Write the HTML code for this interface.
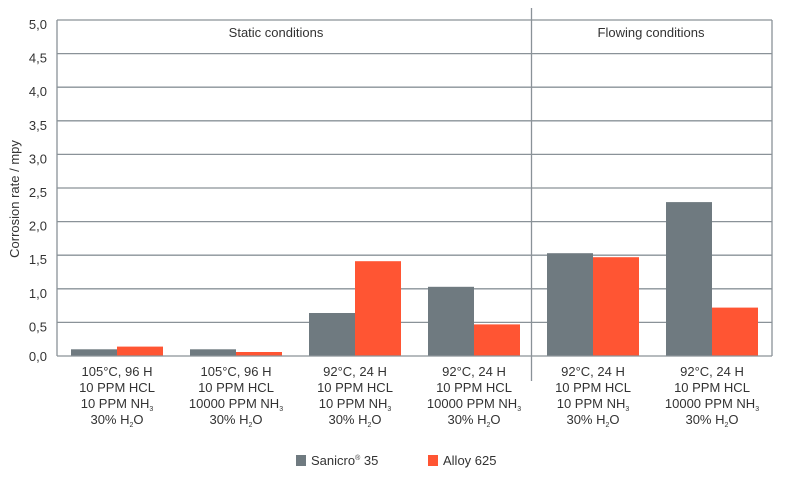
<!DOCTYPE html>
<html><head><meta charset="utf-8"><style>
body{margin:0;background:#fff}
svg{display:block;font-family:"Liberation Sans",sans-serif}
</style></head><body>
<svg width="800" height="479" viewBox="0 0 800 479">
<g stroke="#8a9298" stroke-width="1.3">
<line x1="57" y1="20" x2="772" y2="20"/><line x1="57" y1="53.6" x2="772" y2="53.6"/>
<line x1="57" y1="87.2" x2="772" y2="87.2"/><line x1="57" y1="120.8" x2="772" y2="120.8"/>
<line x1="57" y1="154.4" x2="772" y2="154.4"/><line x1="57" y1="188" x2="772" y2="188"/>
<line x1="57" y1="221.6" x2="772" y2="221.6"/><line x1="57" y1="255.2" x2="772" y2="255.2"/>
<line x1="57" y1="288.8" x2="772" y2="288.8"/><line x1="57" y1="322.4" x2="772" y2="322.4"/>
<line x1="57" y1="20" x2="57" y2="356"/><line x1="772" y1="20" x2="772" y2="356"/>
<line x1="531.5" y1="8" x2="531.5" y2="381"/>
</g>
<g fill="#6f7a80">
<rect x="71" y="349.3" width="46" height="6.7"/>
<rect x="190" y="349.3" width="46" height="6.7"/>
<rect x="309" y="313" width="46" height="43"/>
<rect x="428" y="286.8" width="46" height="69.2"/>
<rect x="547" y="253.2" width="46" height="102.8"/>
<rect x="666" y="202.1" width="46" height="153.9"/>
<rect x="296" y="455" width="10" height="11"/>
</g>
<g fill="#ff5533">
<rect x="117" y="346.6" width="46" height="9.4"/>
<rect x="236" y="352" width="46" height="4"/>
<rect x="355" y="261.2" width="46" height="94.8"/>
<rect x="474" y="324.4" width="46" height="31.6"/>
<rect x="593" y="257.2" width="46" height="98.8"/>
<rect x="712" y="307.6" width="46" height="48.4"/>
<rect x="428" y="455" width="10" height="11"/>
</g>
<line x1="57" y1="356" x2="772" y2="356" stroke="#8a9298" stroke-width="1.3"/>
<g font-size="13" fill="#333" text-anchor="end">
<text x="47" y="29">5,0</text><text x="47" y="62.6">4,5</text><text x="47" y="96.2">4,0</text>
<text x="47" y="129.8">3,5</text><text x="47" y="163.4">3,0</text><text x="47" y="197">2,5</text>
<text x="47" y="230.6">2,0</text><text x="47" y="264.2">1,5</text><text x="47" y="297.8">1,0</text>
<text x="47" y="331.4">0,5</text><text x="47" y="361">0,0</text>
</g>
<text transform="translate(19,199) rotate(-90)" font-size="13" fill="#333" text-anchor="middle">Corrosion rate / mpy</text>
<text x="276" y="37" font-size="13" fill="#333" text-anchor="middle">Static conditions</text>
<text x="651" y="37" font-size="13" fill="#333" text-anchor="middle">Flowing conditions</text>
<g font-size="13" fill="#333" text-anchor="middle">
<text x="117" y="376">105°C, 96 H</text><text x="117" y="392">10 PPM HCL</text><text x="117" y="408">10 PPM NH<tspan font-size="7" dy="3">3</tspan></text><text x="117" y="424">30% H<tspan font-size="7" dy="3">2</tspan><tspan dy="-3">O</tspan></text>
<text x="236" y="376">105°C, 96 H</text><text x="236" y="392">10 PPM HCL</text><text x="236" y="408">10000 PPM NH<tspan font-size="7" dy="3">3</tspan></text><text x="236" y="424">30% H<tspan font-size="7" dy="3">2</tspan><tspan dy="-3">O</tspan></text>
<text x="355" y="376">92°C, 24 H</text><text x="355" y="392">10 PPM HCL</text><text x="355" y="408">10 PPM NH<tspan font-size="7" dy="3">3</tspan></text><text x="355" y="424">30% H<tspan font-size="7" dy="3">2</tspan><tspan dy="-3">O</tspan></text>
<text x="474" y="376">92°C, 24 H</text><text x="474" y="392">10 PPM HCL</text><text x="474" y="408">10000 PPM NH<tspan font-size="7" dy="3">3</tspan></text><text x="474" y="424">30% H<tspan font-size="7" dy="3">2</tspan><tspan dy="-3">O</tspan></text>
<text x="593" y="376">92°C, 24 H</text><text x="593" y="392">10 PPM HCL</text><text x="593" y="408">10 PPM NH<tspan font-size="7" dy="3">3</tspan></text><text x="593" y="424">30% H<tspan font-size="7" dy="3">2</tspan><tspan dy="-3">O</tspan></text>
<text x="712" y="376">92°C, 24 H</text><text x="712" y="392">10 PPM HCL</text><text x="712" y="408">10000 PPM NH<tspan font-size="7" dy="3">3</tspan></text><text x="712" y="424">30% H<tspan font-size="7" dy="3">2</tspan><tspan dy="-3">O</tspan></text>
</g>
<text x="311" y="465" font-size="13" fill="#333">Sanicro<tspan font-size="7" dy="-5">®</tspan><tspan dy="5"> 35</tspan></text>
<text x="443" y="465" font-size="13" fill="#333">Alloy 625</text>
</svg>
</body></html>
